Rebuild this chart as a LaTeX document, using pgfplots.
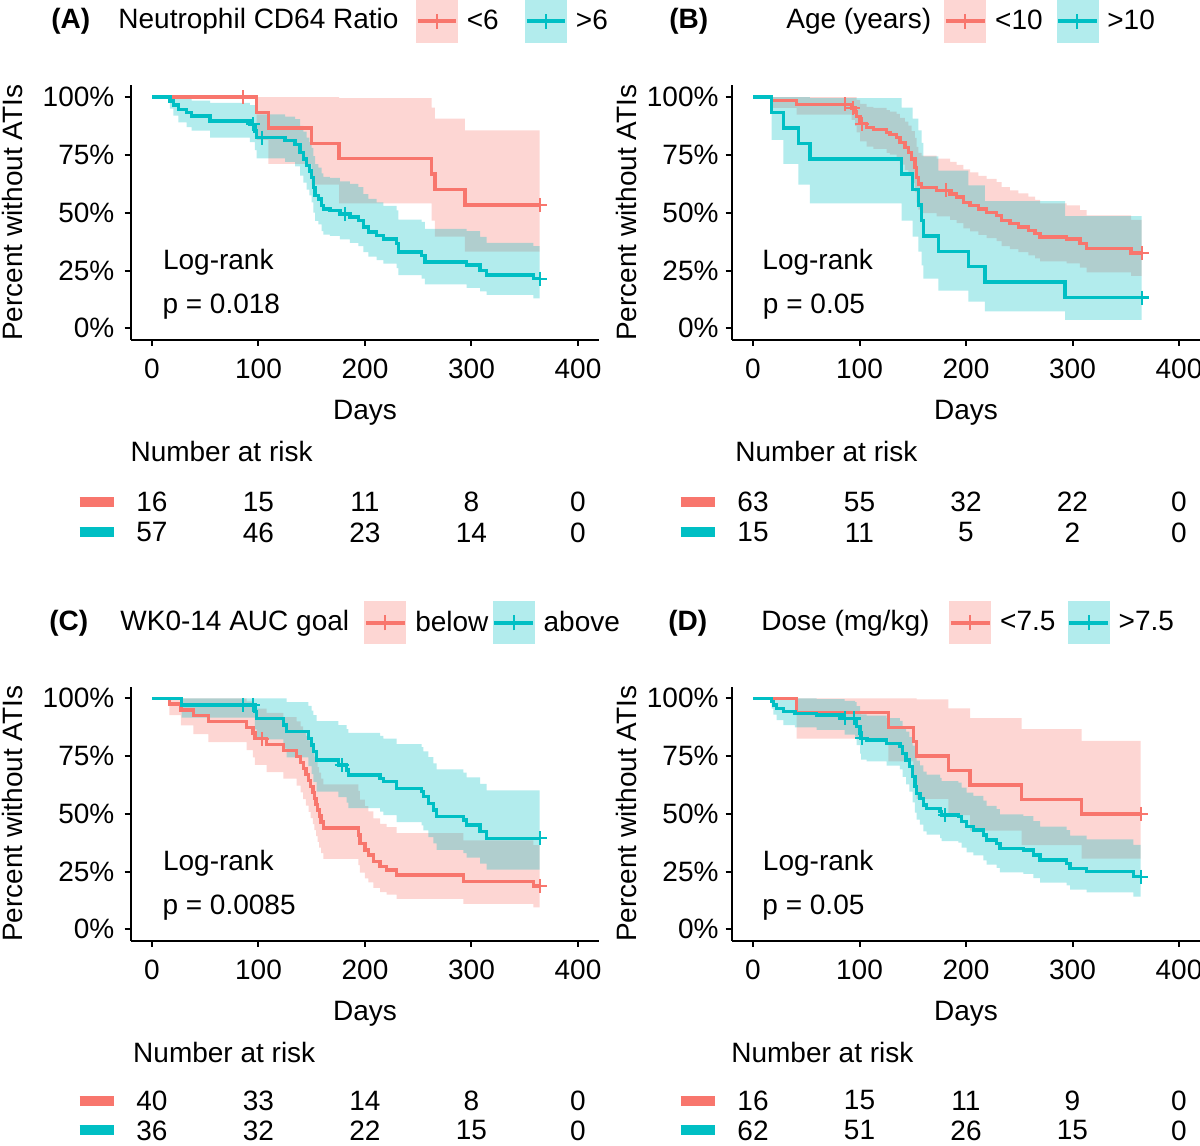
\documentclass[border=0pt]{standalone}
\usepackage{fontspec}
\setmainfont{Liberation Sans}
\usepackage{pgfplots}
\pgfplotsset{compat=1.18}
\usepackage{pgfplotstable}
\usepgfplotslibrary{fillbetween}
\definecolor{cR}{HTML}{F8766D}
\definecolor{cT}{HTML}{00BFC4}
\newcommand{\fs}{\fontsize{14}{16.8}\selectfont}

% ---------------- Panel A ----------------
\pgfplotstableread{
d s lo hi
0 100 100 100
98.3 93.33 81.5 100
109.2 86.67 71.1 100
149.9 80 62.1 100
175.6 73.33 54.0 99.5
262.6 66.67 46.6 95.4
265.7 60 39.7 90.7
293.9 53.33 33.2 85.6
364 53.33 33.2 85.6
}\ARed
\pgfplotstableread{
d s
85.8 100
364 53.33
}\ARedC
\pgfplotstableread{
d s lo hi
0 100 100 100
16.9 98.3 95 100
20.0 96.6 92 100
24.7 94.7 89 100
32.6 93.3 87 99.5
37.2 91.8 85.5 98.5
54.5 89.7 82.5 97.5
92.0 88.2 80.5 96.5
96.7 85.4 77 94.5
98.3 82.5 73.5 92.5
124.9 81.1 72 91.5
134.3 79.6 70 90.5
139.0 76.0 66 87.5
142.1 73.2 63 85
145.2 70.3 60 82.5
147.7 68.1 57.5 80.5
149.9 65.3 54.5 78
151.5 61.0 50 74.5
153.1 57.4 46.5 71
156.2 56.0 45 69.5
159.3 53.1 42 67
160.9 51.6 40.5 65.5
167.1 50.9 40 65
176.5 49.5 38.5 63.5
185.9 48.1 37 62.5
193.7 46.6 35.5 61
198.4 43.8 33 58
203.1 41.6 31 56
211.0 40.2 29.5 54.5
217.2 38.7 28 53
229.7 36.6 26 51
231.3 33.0 23 47
253.2 31.6 21.5 46
256.3 28.7 19 43
295.5 27.3 17.5 42
308.0 25.1 16 39.5
314.2 23.0 14.5 37
358.1 21.5 13 35.5
364 21.5 13 35.5
}\ATeal
\pgfplotstableread{
d s
95.1 88.2
103.0 82.5
181.2 49.5
364 21.5
}\ATealC

% ---------------- Panel B ----------------
\pgfplotstableread{
d s lo hi
0 100 100 100
17.5 98.4 95.3 100
41.0 96.8 92.4 100
92.6 95.3 90.1 100
96.0 93.5 87.5 100
97.3 91.5 84.7 98.8
100.5 88.5 80.8 97.0
106.7 86.8 78.6 95.8
113.0 86.0 77.6 95.3
125.5 84.6 75.9 94.3
128.6 83.9 75.1 93.7
134.9 82.5 73.4 92.7
138.0 80.3 70.8 91.0
142.7 78.2 68.4 89.4
145.9 76.0 65.9 87.6
149.0 73.2 62.8 85.3
152.1 69.6 58.9 82.3
153.7 65.3 54.3 78.5
155.2 62.4 51.3 75.9
158.4 61.0 49.8 74.7
172.5 59.6 48.4 73.4
185.0 58.1 46.9 72.0
191.2 56.7 45.5 70.7
197.5 54.5 43.2 68.7
203.8 53.1 41.9 67.4
211.6 51.6 40.4 65.9
219.4 50.2 39.0 64.6
228.8 48.8 37.7 63.2
233.5 46.6 35.5 61.1
241.3 45.2 34.2 59.7
249.1 43.8 32.9 58.3
258.5 42.3 31.5 56.9
264.8 40.9 30.2 55.5
269.5 39.5 28.9 54.0
294.5 38.7 28.1 53.2
307.0 36.6 26.2 51.1
313.3 34.4 24.2 48.8
355.0 32.6 22.7 46.9
365 32.6 22.7 46.9
}\BRed
\pgfplotstableread{
d s
86.4 96.8
94.2 95.3
102.0 88.5
181.2 59.6
365 32.6
}\BRedC
\pgfplotstableread{
d s lo hi
0 100 100 100
17.5 93.3 81.5 100
28.5 86.7 71.1 100
42.6 80 62.1 100
53.5 73.3 54.0 99.5
139.6 66.7 46.6 95.4
149.9 60 39.7 90.7
155.2 53.3 33.2 85.6
158.4 46.7 27.2 80.2
160.0 40 21.5 74.4
174.0 33.3 16.3 68.2
202.2 26.7 11.5 61.8
217.8 20 7.3 55
293.0 13.3 3.7 48.5
365 13.3 3.7 48.5
}\BTeal
\pgfplotstableread{
d s
365 13.3
}\BTealC

% ---------------- Panel C ----------------
\pgfplotstableread{
d s lo hi
0 100 100 100
16.3 97.5 92.7 100
27.2 95 88.3 100
38.8 92.5 84.5 100
52.9 90 81 100
88.9 87.5 77.6 98.7
94.8 85 74.4 97.1
96.7 82.5 71.2 95.5
107.7 79.9 68.1 93.7
123.3 77.4 65.2 91.9
135.8 74.8 62.2 90
139.5 72.2 59.3 87.9
142 69.6 56.4 85.9
144.5 67.0 53.6 83.8
147 64.5 50.9 81.7
149 61.9 48.2 79.5
151 59.3 45.5 77.2
152.5 56.7 42.9 74.8
154 54.1 40.4 72.5
155.5 51.6 37.9 70.2
157 49.0 35.4 67.8
158.7 46.4 33 65.3
160.9 43.8 30.5 62.8
193.7 40.8 27.8 59.9
195.3 37.2 24.6 56.2
200.0 34.3 22.1 53.3
203.1 32.2 20.3 51.1
207.8 29.3 17.9 48
214.1 27.1 16.1 45.7
220.3 25.7 15 44.2
229.7 23.5 13.2 41.7
292.3 20.6 11 38.5
358.1 18.8 9.5 36.5
364 18.8 9.5 36.5
}\CRed
\pgfplotstableread{
d s
103.0 82.5
364 18.8
}\CRedC
\pgfplotstableread{
d s lo hi
0 100 100 100
27.9 97.2 91.7 100
96.7 94.2 86.6 100
98.3 91.3 82.2 100
123.3 88.5 78.2 100
126.4 85.6 74.4 98.4
146.8 82.7 70.7 96.7
149.9 79.8 67.2 94.7
151.5 76.9 63.8 92.7
154.6 73.3 59.6 90.1
175.0 71.1 57.2 88.4
182.8 69.0 54.9 86.7
184.3 66.8 52.5 85
214.1 65.4 51 83.8
217.2 63.9 49.5 82.6
229.7 61.0 46.4 80.2
253.2 59.6 45 78.9
254.8 57.4 42.8 77
259.5 54.5 39.9 74.5
264.2 51.7 37.2 71.9
267.3 48.8 34.4 69.2
292.3 47.3 33 67.8
295.5 45.2 31 65.8
308.0 42.3 28.4 63
314.2 39.4 25.8 60.2
364 39.4 25.8 60.2
}\CTeal
\pgfplotstableread{
d s
85.8 97.2
95.1 97.2
178.1 71.1
364 39.4
}\CTealC

% ---------------- Panel D ----------------
\pgfplotstableread{
d s lo hi
0 100 100 100
41.0 93.75 82.6 100
127.1 87.5 72.7 100
150.5 81.25 64.2 100
153.7 75 56.5 99.5
183.4 68.75 49.4 95.7
203.8 62.5 42.7 91.4
252.3 56.25 36.5 86.7
308.6 50 30.6 81.6
364 50 30.6 81.6
}\DRed
\pgfplotstableread{
d s
364 50
}\DRedC
\pgfplotstableread{
d s lo hi
0 100 100 100
17.5 98.6 95.6 100
19.1 97.1 92.9 100
22.2 95.7 90.6 100
28.5 94.2 88.4 100
39.4 93.5 87.4 100
59.8 92.8 86.4 99.7
86.0 91.3 84.3 98.9
95.8 90.6 83.4 98.4
97.3 87.7 79.7 96.6
100.5 84.8 76.1 94.5
101.5 82.7 73.5 93.1
106.7 82.0 72.7 92.5
125.5 80.5 70.9 91.4
138.0 79.1 69.3 90.3
140.5 76.2 66 88
143.7 73.3 62.8 85.6
146.8 70.4 59.6 83.2
149.9 66.1 55 79.5
152.1 61.8 50.5 75.6
153.7 58.9 47.5 73
156.8 56.7 45.3 71
159.9 53.8 42.4 68.3
163.1 52.4 41 67
175.6 50.9 39.5 65.6
177.0 49.5 38.2 64.2
192.8 48.8 37.5 63.5
195.9 46.6 35.4 61.4
200.6 44.4 33.3 59.2
206.9 43.0 32 57.8
216.3 40.8 29.9 55.7
219.4 38.7 28 53.5
228.8 37.2 26.6 52
231.9 35.1 24.7 49.8
253.8 34.3 24 49
263.2 32.2 22.2 46.8
269.5 30.0 20.2 44.5
294.5 28.6 19 43
297.7 26.4 17.2 40.6
313.3 25.0 16 39
357.1 22.8 14.2 36.6
364 22.8 14.2 36.6
}\DTeal
\pgfplotstableread{
d s
86.4 91.3
94.5 91.3
102.5 82.7
180.3 49.5
364 22.8
}\DTealC

\pgfplotsset{
 km/.style={
  scale only axis, width=234.3pt, height=127.2pt,
  xmin=-20, xmax=420, ymin=-5, ymax=105,
  axis lines=left, axis line style={-, line width=1pt, black},
  tick align=outside, major tick length=3pt, tick style={line width=1pt, black},
  xtick={0,100,200,300,400}, xticklabels={0,100,200,300,400},
  ytick={0,25,50,75,100}, yticklabels={0\%,25\%,50\%,75\%,100\%},
  /pgf/number format/assume math mode=true,
  ticklabel style={font=\fs, inner sep=0pt},
  xticklabel style={anchor=north, yshift=-6.5pt},
  xlabel={Days}, ylabel={Percent without ATIs},
  xlabel style={font=\fs, at={(axis description cs:0.5,-0.287)}, anchor=center},
  legend columns=2, legend cell align=left,
  legend style={draw=none, fill=none, inner sep=0pt, outer sep=0pt, font=\fs, nodes={inner sep=0pt}, anchor=west},
 },
 kmL/.style={km, yticklabel style={anchor=east, xshift=-5pt},
  ylabel style={font=\fs, at={(axis description cs:-0.2522,0.5)}, anchor=center}},
 kmR/.style={km, yticklabel style={anchor=east, xshift=-3.4pt},
  ylabel style={font=\fs, at={(axis description cs:-0.2256,0.5)}, anchor=center}},
 risk/.style={scale only axis, width=234.3pt, height=45.75pt,
  xmin=-20, xmax=420, ymin=0, ymax=3, hide axis, clip=false},
 keyR/.style={legend image code/.code={
   \fill[cR!30] (0pt,-10.5pt) rectangle (20.5pt,10.5pt);
   \draw[cR,line width=2pt] (0.6pt,0pt)--(19.9pt,0pt);
   \draw[cR,line width=1pt] (10.25pt,-3.8pt)--(10.25pt,3.8pt);
   \path (25pt,0pt);}},
 keyT/.style={legend image code/.code={
   \fill[cT!30] (0pt,-10.5pt) rectangle (20.5pt,10.5pt);
   \draw[cT,line width=2pt] (0.6pt,0pt)--(19.9pt,0pt);
   \draw[cT,line width=1pt] (10.25pt,-3.8pt)--(10.25pt,3.8pt);
   \path (25pt,0pt);}},
 rnum/.style={draw=none, nodes near coords, point meta=explicit symbolic,
   every node near coord/.append style={anchor=center, font=\fs, text=black, inner sep=0pt}},
}

\newcommand{\kmcurves}[5]{%
 \addplot[const plot, cR, line width=1.7pt, forget plot] table[x=d,y=s]{#1};
 \addplot[const plot, cT, line width=1.7pt, forget plot] table[x=d,y=s]{#2};
 \addplot[const plot, draw=none, name path=#5Rlo, forget plot] table[x=d,y=lo]{#1};
 \addplot[const plot, draw=none, name path=#5Rhi, forget plot] table[x=d,y=hi]{#1};
 \addplot[fill=cR, fill opacity=0.3, draw=none, forget plot] fill between[of=#5Rlo and #5Rhi];
 \addplot[const plot, draw=none, name path=#5Tlo, forget plot] table[x=d,y=lo]{#2};
 \addplot[const plot, draw=none, name path=#5Thi, forget plot] table[x=d,y=hi]{#2};
 \addplot[fill=cT, fill opacity=0.3, draw=none, forget plot] fill between[of=#5Tlo and #5Thi];
 \addplot[only marks, mark=+, mark size=3.5pt, cR, line width=1.1pt, forget plot] table[x=d,y=s]{#3};
 \addplot[only marks, mark=+, mark size=3.5pt, cT, line width=1.1pt, forget plot] table[x=d,y=s]{#4};
}

\begin{document}
\begin{tikzpicture}

% ===== A =====
\begin{axis}[kmL, at={(65.35pt,403.05pt)}, anchor=south west,
  legend style={at={(axis description cs:0.608,1.2516)}, /tikz/every even column/.append style={column sep=13pt}}]
\addlegendimage{keyR}\addlegendentry{<6}
\addlegendimage{keyT}\addlegendentry{>6}
\kmcurves{\ARed}{\ATeal}{\ARedC}{\ATealC}{A}
\node[anchor=west, inner sep=0pt, font=\fs] at (axis cs:10,28.6) {Log-rank};
\node[anchor=west, inner sep=0pt, font=\fs] at (axis cs:9.5,9.3) {p = 0.018};
\end{axis}
\begin{axis}[risk, at={(65.35pt,291.5pt)}, anchor=south west]
\addplot[cR, line width=5pt] coordinates {(-68,2) (-36,2)};
\addplot[cT, line width=5pt] coordinates {(-68,1) (-36,1)};
\addplot[rnum] coordinates {(0,2)[16] (100,2)[15] (200,2)[11] (300,2)[8] (400,2)[0]};
\addplot[rnum] coordinates {(0,1)[57] (100,1)[46] (200,1)[23] (300,1)[14] (400,1)[0]};
\node[anchor=west, inner sep=0pt, font=\fs] at (axis cs:-20.5,3.67) {Number at risk};
\end{axis}
\node[anchor=west, inner sep=0pt, font=\fs\bfseries] at (25.5pt,562.25pt) {(A)};
\node[anchor=west, inner sep=0pt, font=\fs] at (59pt,562.25pt) {Neutrophil CD64 Ratio};

% ===== B =====
\begin{axis}[kmR, at={(365.85pt,403.05pt)}, anchor=south west,
  legend style={at={(axis description cs:0.453,1.2516)}, /tikz/every even column/.append style={column sep=6.75pt}}]
\addlegendimage{keyR}\addlegendentry{<10}
\addlegendimage{keyT}\addlegendentry{>10}
\kmcurves{\BRed}{\BTeal}{\BRedC}{\BTealC}{B}
\node[anchor=west, inner sep=0pt, font=\fs] at (axis cs:8.5,28.6) {Log-rank};
\node[anchor=west, inner sep=0pt, font=\fs] at (axis cs:9,9.3) {p = 0.05};
\end{axis}
\begin{axis}[risk, at={(365.85pt,291.5pt)}, anchor=south west]
\addplot[cR, line width=5pt] coordinates {(-68,2) (-36,2)};
\addplot[cT, line width=5pt] coordinates {(-68,1) (-36,1)};
\addplot[rnum] coordinates {(0,2)[63] (100,2)[55] (200,2)[32] (300,2)[22] (400,2)[0]};
\addplot[rnum] coordinates {(0,1)[15] (100,1)[11] (200,1)[5] (300,1)[2] (400,1)[0]};
\node[anchor=west, inner sep=0pt, font=\fs] at (axis cs:-17,3.67) {Number at risk};
\end{axis}
\node[anchor=west, inner sep=0pt, font=\fs\bfseries] at (334.5pt,562.25pt) {(B)};
\node[anchor=west, inner sep=0pt, font=\fs] at (393pt,562.25pt) {Age (years)};

% ===== C =====
\begin{axis}[kmL, height=127.05pt, at={(65.35pt,102.55pt)}, anchor=south west,
  legend style={at={(axis description cs:0.498,1.2518)}, /tikz/every even column/.append style={column sep=2pt}}]
\addlegendimage{keyR}\addlegendentry{below}
\addlegendimage{keyT}\addlegendentry{above}
\kmcurves{\CRed}{\CTeal}{\CRedC}{\CTealC}{C}
\node[anchor=west, inner sep=0pt, font=\fs] at (axis cs:10,28.6) {Log-rank};
\node[anchor=west, inner sep=0pt, font=\fs] at (axis cs:9.5,9.3) {p = 0.0085};
\end{axis}
\begin{axis}[risk, height=45pt, at={(65.35pt,-7.25pt)}, anchor=south west]
\addplot[cR, line width=5pt] coordinates {(-68,2) (-36,2)};
\addplot[cT, line width=5pt] coordinates {(-68,1) (-36,1)};
\addplot[rnum] coordinates {(0,2)[40] (100,2)[33] (200,2)[14] (300,2)[8] (400,2)[0]};
\addplot[rnum] coordinates {(0,1)[36] (100,1)[32] (200,1)[22] (300,1)[15] (400,1)[0]};
\node[anchor=west, inner sep=0pt, font=\fs] at (axis cs:-18,3.617) {Number at risk};
\end{axis}
\node[anchor=west, inner sep=0pt, font=\fs\bfseries] at (24.5pt,261.6pt) {(C)};
\node[anchor=west, inner sep=0pt, font=\fs] at (60pt,261.6pt) {WK0-14 AUC goal};

% ===== D =====
\begin{axis}[kmR, height=127.05pt, at={(365.85pt,102.55pt)}, anchor=south west,
  legend style={at={(axis description cs:0.4637,1.2518)}, /tikz/every even column/.append style={column sep=6pt}}]
\addlegendimage{keyR}\addlegendentry{<7.5}
\addlegendimage{keyT}\addlegendentry{>7.5}
\kmcurves{\DRed}{\DTeal}{\DRedC}{\DTealC}{D}
\node[anchor=west, inner sep=0pt, font=\fs] at (axis cs:9,28.6) {Log-rank};
\node[anchor=west, inner sep=0pt, font=\fs] at (axis cs:8.5,9.3) {p = 0.05};
\end{axis}
\begin{axis}[risk, height=45pt, at={(365.85pt,-7.25pt)}, anchor=south west]
\addplot[cR, line width=5pt] coordinates {(-68,2) (-36,2)};
\addplot[cT, line width=5pt] coordinates {(-68,1) (-36,1)};
\addplot[rnum] coordinates {(0,2)[16] (100,2)[15] (200,2)[11] (300,2)[9] (400,2)[0]};
\addplot[rnum] coordinates {(0,1)[62] (100,1)[51] (200,1)[26] (300,1)[15] (400,1)[0]};
\node[anchor=west, inner sep=0pt, font=\fs] at (axis cs:-20.7,3.617) {Number at risk};
\end{axis}
\node[anchor=west, inner sep=0pt, font=\fs\bfseries] at (334pt,261.6pt) {(D)};
\node[anchor=west, inner sep=0pt, font=\fs] at (380.5pt,261.6pt) {Dose (mg/kg)};

\pgfresetboundingbox
\useasboundingbox (0,0) rectangle (600pt,573pt);
\end{tikzpicture}
\end{document}
